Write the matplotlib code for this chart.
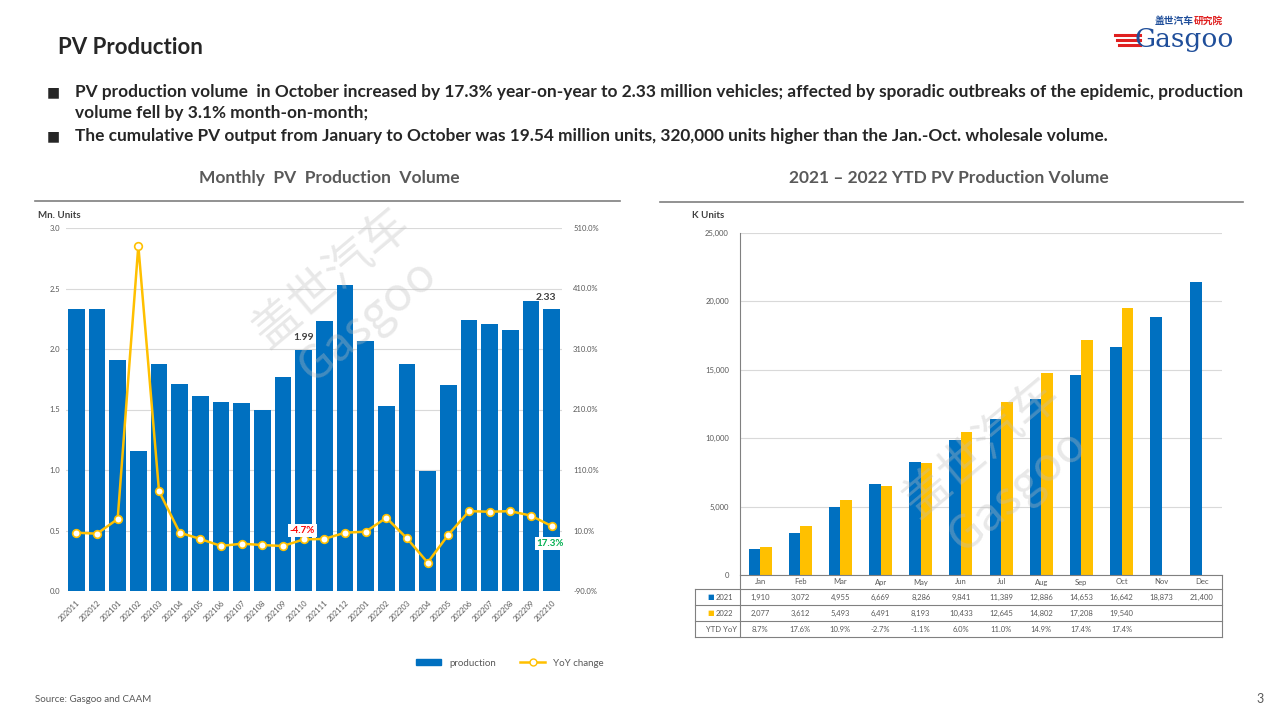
import matplotlib.pyplot as plt
from matplotlib.lines import Line2D
from matplotlib.patches import Patch

# monthly production (million units) and YoY change (%)
months = ["202011", "202012", "202101", "202102", "202103", "202104",
          "202105", "202106", "202107", "202108", "202109", "202110",
          "202111", "202112", "202201", "202202", "202203", "202204",
          "202205", "202206", "202207", "202208", "202209", "202210"]
production = [2.33, 2.33, 1.91, 1.16, 1.88, 1.71, 1.61, 1.56, 1.55, 1.50,
              1.77, 1.99, 2.23, 2.53, 2.07, 1.53, 1.88, 0.99, 1.70, 2.24,
              2.21, 2.16, 2.40, 2.33]
yoy = [6.4, 4.7, 29.0, 480.7, 75.0, 6.5, -4.0, -15.6, -11.8, -14.0, -15.6,
       -4.7, -4.0, 6.4, 8.0, 31.0, -3.0, -43.0, 3.0, 42.0, 41.0, 42.0,
       34.5, 17.3]

# YTD cumulative production (K units)
ytd_months = ["Jan", "Feb", "Mar", "Apr", "May", "Jun", "Jul", "Aug",
              "Sep", "Oct", "Nov", "Dec"]
ytd_2021 = [1910, 3072, 4955, 6669, 8286, 9841, 11389, 12886, 14653,
            16642, 18873, 21400]
ytd_2022 = [2077, 3612, 5493, 6491, 8193, 10433, 12645, 14802, 17208,
            19540]
ytd_yoy = ["8.7%", "17.6%", "10.9%", "-2.7%", "-1.1%", "6.0%", "11.0%",
           "14.9%", "17.4%", "17.4%"]

W, H = 1280, 720
BLUE = "#0070C0"
GOLD = "#FFC000"
GREY = "#595959"
plt.rcParams['font.family'] = ['Lato', 'Noto Sans CJK SC', 'DejaVu Sans']


def box(x0, y0, x1, y1):
    return [x0 / W, 1 - y1 / H, (x1 - x0) / W, (y1 - y0) / H]


def ftext(x, y, s, **kw):
    fig.text(x / W, 1 - y / H, s, **kw)


def hline(x0, x1, y, **kw):
    fig.add_artist(Line2D([x0 / W, x1 / W], [1 - y / H, 1 - y / H], **kw))


fig = plt.figure(figsize=(12.8, 7.2), dpi=100)

# header
ftext(58, 48, "PV Production", fontsize=16, fontweight="bold",
      color="#262626", va="center")
ftext(1155, 21, "盖世汽车", fontsize=7, fontweight="bold", color="#1F4E9A",
      va="center", family=["Noto Sans CJK SC"])
ftext(1194, 21, "研究院", fontsize=7, fontweight="bold", color="#E02020",
      va="center", family=["Noto Sans CJK SC"])
ftext(1134, 40, "Gasgoo", fontsize=19, color="#1F4E9A", va="center",
      family=["DejaVu Serif"])
for i, yy in enumerate([35, 40, 45]):
    hline(1115 + i * 2, 1140, yy, color="#E02020", lw=2.2)

bullets = [
    (92, "■", "PV production volume  in October increased by 17.3% year-on-year to 2.33 million vehicles; affected by sporadic outbreaks of the epidemic, production"),
    (113, None, "volume fell by 3.1% month-on-month;"),
    (136, "■", "The cumulative PV output from January to October was 19.54 million units, 320,000 units higher than the Jan.-Oct. wholesale volume."),
]
for yy, mark, txt in bullets:
    if mark:
        ftext(47, yy, mark, fontsize=10, color="#262626", va="center",
              family=["DejaVu Sans"])
    ftext(75, yy, txt, fontsize=12.45, fontweight="bold", color="#262626",
          va="center")

# panel titles
ftext(329, 178, "Monthly  PV  Production  Volume", fontsize=12.5,
      fontweight="bold", color=GREY, ha="center", va="center")
ftext(949, 178, "2021 – 2022 YTD PV Production Volume", fontsize=12.5,
      fontweight="bold", color=GREY, ha="center", va="center")
hline(35, 620, 201, color="#7F7F7F", lw=1.2)
hline(660, 1243, 202, color="#7F7F7F", lw=1.2)
ftext(38, 215, "Mn. Units", fontsize=7, fontweight="bold", color="#404040",
      va="center")
ftext(692, 215, "K Units", fontsize=7, fontweight="bold", color="#404040",
      va="center")

# left chart
ax = fig.add_axes(box(66, 228, 562, 591))
x = range(len(months))
ax.bar(x, production, width=0.82, color=BLUE, zorder=2)
ax.set_ylim(0, 3.0)
ax.set_yticks([0, 0.5, 1.0, 1.5, 2.0, 2.5, 3.0])
ax.set_yticklabels(["%.1f" % v for v in ax.get_yticks()])
ax.set_xlim(-0.5, len(months) - 0.5)
ax.set_xticks(list(x))
ax.set_xticklabels(months, rotation=45, ha="right", rotation_mode="anchor")
ax.grid(axis="y", color="#D9D9D9", lw=0.8, zorder=0)
for s in ax.spines.values():
    s.set_visible(False)
ax.tick_params(length=0, labelsize=5.5, labelcolor=GREY, pad=4)
ax.tick_params(axis="x", pad=6)

ax2 = ax.twinx()
ax2.plot(list(x), yoy, color=GOLD, lw=1.8, marker="o", markersize=5.5,
         markerfacecolor="white", markeredgecolor=GOLD, markeredgewidth=1.2,
         zorder=3)
ax2.set_ylim(-90, 510)
ax2.set_yticks(range(-90, 511, 100))
ax2.set_yticklabels(["%.1f%%" % v for v in range(-90, 511, 100)])
for s in ax2.spines.values():
    s.set_visible(False)
ax2.tick_params(length=0, labelsize=5.5, labelcolor=GREY, pad=8)

ax.annotate("%.2f" % production[11], (11, production[11]), xytext=(0, 6),
            textcoords="offset points", ha="center", va="bottom",
            fontsize=7.5, fontweight="bold", color="#404040")
ax.annotate("%.2f" % production[-1], (23, production[-1]), xytext=(-4, 5),
            textcoords="offset points", ha="center", va="bottom",
            fontsize=7.5, fontweight="bold", color="#404040")
ax2.annotate("%.1f%%" % yoy[11], (11, yoy[11]), xytext=(-1, 3),
             textcoords="offset points", ha="center", va="bottom",
             fontsize=7, fontweight="bold", color="#FF0000",
             bbox=dict(boxstyle="square,pad=0.2", fc="white", ec="none"))
ax2.annotate("%.1f%%" % yoy[-1], (23, yoy[-1]), xytext=(-1, -9),
             textcoords="offset points", ha="center", va="top",
             fontsize=7, fontweight="bold", color="#00B050",
             bbox=dict(boxstyle="square,pad=0.2", fc="white", ec="none"))

handles = [Patch(color=BLUE),
           Line2D([], [], color=GOLD, lw=1.8, marker="o", markersize=5,
                  markerfacecolor="white", markeredgecolor=GOLD)]
fig.legend(handles, ["production", "YoY change"], ncol=2, frameon=False,
           loc="center", bbox_to_anchor=(510 / W, 1 - 663 / H), fontsize=7,
           handlelength=2.6, handleheight=0.5, columnspacing=2.5,
           labelcolor=GREY)

# right chart
bx = fig.add_axes(box(740, 233, 1222, 575))
xr = list(range(len(ytd_months)))
bw = 0.285
bx.bar([i - bw / 2 for i in xr], ytd_2021, width=bw, color=BLUE, zorder=2)
bx.bar([i + bw / 2 for i in range(len(ytd_2022))], ytd_2022, width=bw,
       color=GOLD, zorder=2)
bx.set_xlim(-0.5, len(ytd_months) - 0.5)
bx.set_ylim(0, 25000)
bx.set_yticks(range(0, 25001, 5000))
bx.set_yticklabels(["{:,}".format(v) for v in range(0, 25001, 5000)])
bx.set_xticks([])
bx.grid(axis="y", color="#D9D9D9", lw=0.8, zorder=0)
for side in ["top", "right"]:
    bx.spines[side].set_visible(False)
bx.spines["left"].set_color("#808080")
bx.spines["bottom"].set_color("#808080")
bx.tick_params(length=0, labelsize=5.5, labelcolor=GREY, pad=8)

# data table under right chart
tr = bx.get_xaxis_transform()
ah = 342.0
row_y = [(575 - c) / ah for c in (582, 597, 613, 629)]
line_y = [(575 - c) / ah for c in (589, 605, 621, 637)]
lx = (695 - 740) / 482 * 12 - 0.5
tab_kw = dict(fontsize=5.5, color=GREY, ha="center", va="center",
              transform=tr, clip_on=False)
for i, m in enumerate(ytd_months):
    bx.text(i, row_y[0], m, **tab_kw)
    bx.text(i, row_y[1], "{:,}".format(ytd_2021[i]), **tab_kw)
for i in range(len(ytd_2022)):
    bx.text(i, row_y[2], "{:,}".format(ytd_2022[i]), **tab_kw)
    bx.text(i, row_y[3], ytd_yoy[i], **tab_kw)
for ly in line_y:
    bx.plot([lx, 11.5], [ly, ly], color="#808080", lw=0.8, transform=tr,
            clip_on=False)
bx.plot([-0.5, -0.5], [0, line_y[-1]], color="#808080", lw=0.8,
        transform=tr, clip_on=False)
bx.plot([11.5, 11.5], [0, line_y[-1]], color="#808080", lw=0.8,
        transform=tr, clip_on=False)
bx.plot([lx, lx], [line_y[0], line_y[-1]], color="#808080", lw=0.8,
        transform=tr, clip_on=False)
lab_kw = dict(fontsize=5.5, color=GREY, va="center", transform=tr,
              clip_on=False)
bx.text(lx + 0.3, row_y[1], "■", color=BLUE, fontsize=5, va="center",
        transform=tr, family=["DejaVu Sans"])
bx.text(lx + 0.52, row_y[1], "2021", **lab_kw)
bx.text(lx + 0.3, row_y[2], "■", color=GOLD, fontsize=5, va="center",
        transform=tr, family=["DejaVu Sans"])
bx.text(lx + 0.52, row_y[2], "2022", **lab_kw)
bx.text(-0.58, row_y[3], "YTD YoY", ha="right", **lab_kw)

# watermarks
for wx, wy in [(350, 300), (1000, 470)]:
    ftext(wx, wy, "盖世汽车\nGasgoo", fontsize=34, color="#BFBFBF",
          alpha=0.35, rotation=40, ha="center", va="center",
          family=["Noto Sans CJK SC"], zorder=10)

ftext(35, 699, "Source: Gasgoo and CAAM", fontsize=7, color=GREY,
      va="center")
ftext(1256, 699, "3", fontsize=9, color=GREY, va="center")

fig.savefig("out.png", dpi=100)
